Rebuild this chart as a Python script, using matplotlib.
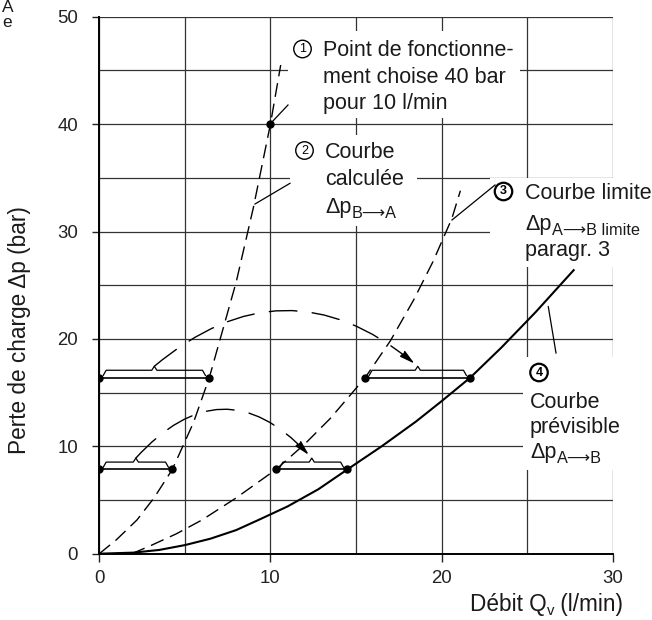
import numpy as np
import matplotlib.pyplot as plt
from matplotlib.patches import Rectangle, FancyArrowPatch

plt.rcParams['font.family'] = ['Liberation Sans', 'DejaVu Sans']

# courbe 2 : calculée dp B->A
q_calc = [0, 1.0, 2.2, 3.2, 4.27, 5.5, 6.43, 8.0, 9.0, 10.0, 10.6]
p_calc = [0, 1.3, 3.14, 5.2, 7.85, 12.2, 16.4, 25.3, 32.2, 40.0, 45.5]

# courbe 3 : limite dp A->B
q_lim = [1.9, 3.0, 4.5, 6.0, 8.0, 10.33, 12.0, 13.5, 15.54, 17.0, 18.36, 19.5, 20.6, 21.1]
p_lim = [0, 0.75, 1.85, 3.14, 5.2, 7.85, 10.2, 12.6, 16.4, 19.8, 23.6, 27.2, 31.2, 33.8]

# courbe 4 : prévisible dp A->B
q_prev = [0, 2.0, 3.5, 5.0, 6.5, 8.0, 9.3, 11.0, 12.8, 14.5, 16.5, 18.5, 20.0, 21.68, 23.5, 25.5, 27.72]
p_prev = [0, 0.1, 0.35, 0.8, 1.4, 2.2, 3.14, 4.4, 6.0, 7.85, 10.0, 12.3, 14.2, 16.4, 19.2, 22.5, 26.4]

# point de fonctionnement
q_point = 10
p_point = 40

# plages (accolades)
seg_y = [16.4, 7.85, 16.4, 7.85]
seg_x0 = [0, 0, 15.54, 10.33]
seg_x1 = [6.43, 4.27, 21.68, 14.5]

xticks = [0, 10, 20, 30]
yticks = [0, 10, 20, 30, 40, 50]

W, H = 652, 620
FS = 15.5
FS_SUB = 11.7
FS_AX = 16.3
ARROW = '\u27f6'

fig = plt.figure(figsize=(W / 100, H / 100), dpi=100)
ax = fig.add_axes([99.3 / W, 66.3 / H, 513.4 / W, 537 / H])
ax.set_xlim(0, 30)
ax.set_ylim(0, 50)


def px(x, y):
    # pixel (from top-left) -> data
    return ax.transData.inverted().transform((x, H - y))


# grid
ax.set_xticks(xticks)
ax.set_yticks(yticks)
ax.set_xticks([5, 15, 25], minor=True)
ax.set_yticks([5, 15, 25, 35, 45], minor=True)
ax.grid(which='both', color='#333333', lw=0.9)
ax.set_axisbelow(True)
ax.tick_params(which='major', direction='out', length=5.4, width=1.0, labelsize=13.4, colors='#222222')
ax.tick_params(axis='y', which='major', pad=10)
ax.tick_params(axis='x', which='major', pad=6)
ax.tick_params(which='minor', length=0)
for s in ['top', 'right']:
    ax.spines[s].set_visible(False)
for s in ['left', 'bottom']:
    ax.spines[s].set_linewidth(1.4)

# white zones behind the texts
for x0, y0, x1, y1 in [(288, 31, 520, 118), (290, 135, 417, 226),
                       (490, 178, 652, 267), (523, 357, 652, 470)]:
    a = px(x0, y1)
    b = px(x1, y0)
    ax.add_patch(Rectangle(a, b[0] - a[0], b[1] - a[1], fc='white', ec='none',
                           zorder=1, clip_on=False))

# curves
ax.plot(q_calc, p_calc, color='black', lw=1.0, ls=(0, (10, 5)), zorder=3)
ax.plot(q_lim, p_lim, color='black', lw=1.0, ls=(0, (10, 5)), zorder=3)
ax.plot(q_prev, p_prev, color='black', lw=1.5, zorder=3)
ax.plot([q_point], [p_point], 'o', color='black', ms=5, zorder=4)

# ranges with braces
dy = 0.68
peaks = []
for y, x0, x1 in zip(seg_y, seg_x0, seg_x1):
    ax.plot([x0, x1], [y, y], color='black', lw=1.2, zorder=3)
    ax.plot([x0, x1], [y, y], 'o', color='black', ms=5, zorder=4)
    xm = (x0 + x1) / 2
    bx = [x0 + 0.23, x0 + 0.4, xm - 0.15, xm, xm + 0.15, x1 - 0.4, x1 - 0.23]
    by = [y + 0.2, y + dy, y + dy, y + dy + 0.37, y + dy, y + dy, y + 0.2]
    ax.plot(bx, by, color='black', lw=0.9, zorder=3)
    peaks.append((xm, y + dy + 0.37))

for i, j, rad in [(0, 2, -0.42), (1, 3, -0.55)]:
    arr = FancyArrowPatch(peaks[i], peaks[j], connectionstyle=f'arc3,rad={rad}',
                          arrowstyle='-|>,head_length=0.6,head_width=0.15',
                          mutation_scale=15, shrinkA=0, shrinkB=3,
                          color='black', lw=1.0, ls=(0, (20, 11)), zorder=3)
    ax.add_patch(arr)

# leaders
for (xa, ya), (xb, yb) in [((270, 124.1), (288, 105)), ((255, 204), (290, 183.3)),
                           ((452, 220), (495, 185)), ((548.3, 306.7), (556, 353))]:
    a = px(xa, ya)
    b = px(xb, yb)
    ax.plot([a[0], b[0]], [a[1], b[1]], color='black', lw=0.9, zorder=3, clip_on=False)


def txt(x, y, s, **kw):
    p = px(x, y)
    return ax.text(p[0], p[1], s, fontsize=FS, va='baseline', ha='left',
                   color='#1a1a1a', zorder=5, clip_on=False, **kw)


def dp(x, y, sub):
    t = txt(x, y, 'Δp')
    ax.annotate(sub, xy=(1, 0), xycoords=t, xytext=(0.5, 0), textcoords='offset points',
                fontsize=FS_SUB, va='baseline', ha='left', color='#1a1a1a',
                annotation_clip=False)


def circled(x, y, n, bold=False):
    p = px(x, y)
    ax.text(p[0], p[1], n, fontsize=9, ha='center', va='center',
            fontweight='bold' if bold else 'normal', zorder=6, clip_on=False,
            bbox=dict(boxstyle='circle,pad=0.22', fc='white', ec='black',
                      lw=1.6 if bold else 1.0))


circled(302.5, 49, '1')
txt(323, 56, 'Point de fonctionne-')
txt(323, 83, 'ment choise 40 bar')
txt(323, 109, 'pour 10 l/min')

circled(304.5, 150.5, '2')
txt(325, 158.3, 'Courbe')
txt(325, 185, 'calculée')
dp(325, 213.3, 'B' + ARROW + 'A')

circled(503.5, 191.5, '3', bold=True)
txt(525, 199.3, 'Courbe limite')
dp(525, 230, 'A' + ARROW + 'B limite')
txt(525, 256, 'paragr. 3')

circled(539, 372.5, '4', bold=True)
txt(530, 408.3, 'Courbe')
txt(530, 433.3, 'prévisible')
dp(530, 458.3, 'A' + ARROW + 'B')

# axis labels
fig.text(20 / W, 1 - 330 / H, 'Perte de charge Δp (bar)', rotation=90,
         fontsize=FS_AX, ha='center', va='center', color='#1a1a1a')
xl = fig.text(470 / W, 1 - 611 / H, 'Débit Q', fontsize=FS_AX, ha='left', va='baseline',
              color='#1a1a1a')
fig.canvas.draw()
bb = xl.get_window_extent()
xs = fig.text(bb.x1 / W, 1 - 615 / H, 'v', fontsize=FS_SUB - 1, ha='left', va='baseline',
              color='#1a1a1a')
fig.canvas.draw()
bs = xs.get_window_extent()
fig.text(bs.x1 / W, 1 - 611 / H, ' (l/min)', fontsize=FS_AX, ha='left', va='baseline',
         color='#1a1a1a')

# cropped remnants top-left
fig.text(2 / W, 1 - 0.5 / H, 'A\ne', fontsize=12.5, linespacing=0.95, ha='left', va='top',
         color='#1a1a1a')

fig.savefig('out.png', dpi=100)
